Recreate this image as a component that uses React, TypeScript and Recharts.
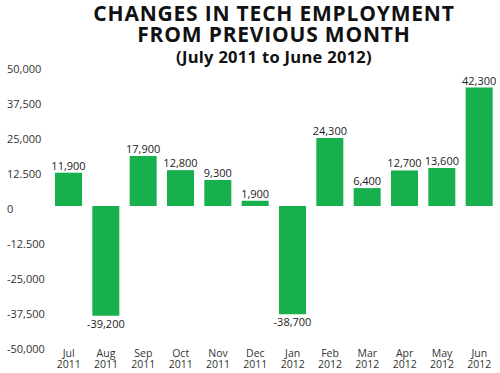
import React from "react";
import { BarChart, Bar, XAxis, YAxis, LabelList } from "recharts";

const months = ["Jul", "Aug", "Sep", "Oct", "Nov", "Dec", "Jan", "Feb", "Mar", "Apr", "May", "Jun"];
const years = ["2011", "2011", "2011", "2011", "2011", "2011", "2012", "2012", "2012", "2012", "2012", "2012"];
const changes = [11900, -39200, 17900, 12800, 9300, 1900, -38700, 24300, 6400, 12700, 13600, 42300];
const yTicks = [-50000, -37500, -25000, -12500, 0, 12500, 25000, 37500, 50000];
const yTickLabels = ["-50,000", "-37,500", "-25,000", "-12.500", "0", "12.500", "25,000", "37,500", "50,000"];

const data = months.map((m, i) => ({ month: m, year: years[i], value: changes[i] }));

const FONT = "'Open Sans', sans-serif";
const GREEN = "#18b04c";

const XTick = (props: any) => {
  const { x, y, payload } = props;
  const i = payload.index;
  return (
    <g>
      <text x={x} y={y + 3} textAnchor="middle" fontFamily={FONT} fontSize={10.5} fill="#333">
        {months[i]}
      </text>
      <text x={x} y={y + 14} textAnchor="middle" fontFamily={FONT} fontSize={10.5} fill="#333">
        {years[i]}
      </text>
    </g>
  );
};

const YTick = (props: any) => {
  const { y, payload } = props;
  const idx = yTicks.indexOf(payload.value);
  return (
    <text x={7} y={y + 7} textAnchor="start" fontFamily={FONT} fontSize={11} fill="#333">
      {yTickLabels[idx]}
    </text>
  );
};

const ValueLabel = (props: any) => {
  const { x, y, width, height, value } = props;
  const top = Math.min(y, y + height);
  const bottom = Math.max(y, y + height);
  const cx = x + width / 2;
  const text = Number(value).toLocaleString("en-US");
  if (value >= 0) {
    return (
      <text x={cx} y={top - 3} textAnchor="middle" fontFamily={FONT} fontSize={11} fill="#222">
        {text}
      </text>
    );
  }
  return (
    <text x={cx} y={bottom + 12} textAnchor="middle" fontFamily={FONT} fontSize={11} fill="#222">
      {text}
    </text>
  );
};

const titleLine = (top: number, size: number, spacing: number): React.CSSProperties => ({
  position: "absolute",
  left: 0,
  top,
  width: 548,
  textAlign: "center",
  fontFamily: FONT,
  fontWeight: 700,
  color: "#111",
  fontSize: size,
  lineHeight: `${size}px`,
  letterSpacing: spacing,
  whiteSpace: "nowrap",
});

export default function App() {
  return (
    <div style={{ position: "absolute", left: 0, top: 0, width: 500, height: 373, background: "#fff" }}>
      <div style={titleLine(3, 21, 0.8)}>CHANGES IN TECH EMPLOYMENT</div>
      <div style={titleLine(24, 21, 0.8)}>FROM PREVIOUS MONTH</div>
      <div style={titleLine(49, 16.5, 0.3)}>(July 2011 to June 2012)</div>
      <div style={{ position: "absolute", left: 0, top: 0 }}>
        <BarChart width={500} height={373} data={data} margin={{ top: 66, right: 2, bottom: 0, left: 0 }}>
          <XAxis
            dataKey="month"
            axisLine={false}
            tickLine={false}
            height={27}
            interval={0}
            tick={<XTick />}
          />
          <YAxis
            domain={[-50000, 50000]}
            ticks={yTicks}
            axisLine={false}
            tickLine={false}
            width={50}
            interval={0}
            tick={<YTick />}
          />
          <Bar dataKey="value" fill={GREEN} barSize={27} isAnimationActive={false}>
            <LabelList dataKey="value" content={<ValueLabel />} />
          </Bar>
        </BarChart>
      </div>
    </div>
  );
}
